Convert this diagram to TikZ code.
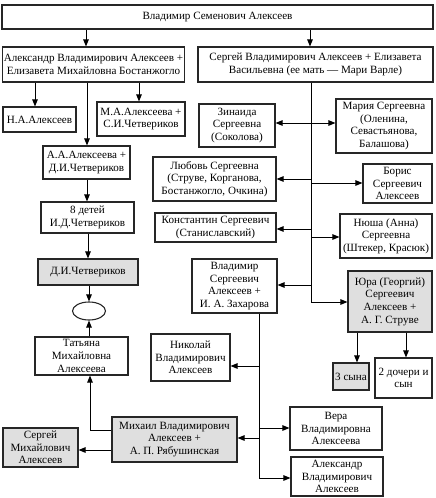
\documentclass[tikz,border=0pt]{standalone}
\usepackage{fontspec}
\setmainfont{Liberation Serif}
\usetikzlibrary{arrows.meta,shapes.geometric}
\begin{document}
\begin{tikzpicture}[x=1pt,y=-1pt,
  box/.style={draw=black!85,line width=1.1pt,fill=white,align=center,inner sep=1pt,
    font=\fontsize{11.1}{12.6}\selectfont,text=black},
  graybox/.style={box,fill=gray!25},
  arr/.style={line width=1pt,-{Triangle[length=7pt,width=5.5pt]}},
  ln/.style={line width=1pt}]
\useasboundingbox (0,0) rectangle (436,498);
% boxes: (center) width height
\node[box,minimum width=431pt,minimum height=24pt] (top) at (217.5,17) {Владимир Семенович Алексеев};
\node[box,minimum width=181pt,minimum height=35pt] (A) at (93.5,64.5) {Александр Владимирович Алексеев +\\Елизавета Михайловна Бостанжогло};
\node[box,minimum width=235pt,minimum height=35pt] (S) at (315.5,64.5) {Сергей Владимирович Алексеев + Елизавета\\Васильевна (ее мать — Мари Варле)};
\node[box,minimum width=73pt,minimum height=25pt] (NA) at (39.5,119.5) {Н.А.Алексеев};
\node[box,minimum width=88pt,minimum height=34pt] (MA) at (141,119) {М.А.Алексеева +\\С.И.Четвериков};
\node[box,minimum width=87pt,minimum height=33pt] (AA) at (86.5,162.5) {А.А.Алексеева +\\Д.И.Четвериков};
\node[box,minimum width=93pt,minimum height=31pt] (D8) at (87.5,217.5) {8 детей\\И.Д.Четвериков};
\node[graybox,minimum width=100pt,minimum height=26pt] (DI) at (88,272) {Д.И.Четвериков};
\node[draw=black!85,line width=1.1pt,ellipse,minimum width=33pt,minimum height=18pt,inner sep=0pt] (el) at (89,311) {};
\node[box,minimum width=93pt,minimum height=38pt] (Tat) at (81.5,356) {Татьяна\\Михайловна\\Алексеева};
\node[graybox,minimum width=75pt,minimum height=39pt] (Ser) at (40.5,447.5) {Сергей\\Михайлович\\Алексеев};
\node[graybox,minimum width=125pt,minimum height=45pt] (Mik) at (174.5,439.5) {Михаил Владимирович\\Алексеев +\\А. П. Рябушинская};
\node[box,minimum width=79pt,minimum height=47pt] (Nik) at (190.5,357.5) {Николай\\Владимирович\\Алексеев};
\node[box,minimum width=76pt,minimum height=43pt] (Zin) at (237,125.5) {Зинаида\\Сергеевна\\(Соколова)};
\node[box,minimum width=96pt,minimum height=54pt] (Mar) at (384,126) {Мария Сергеевна\\(Оленина,\\Севастьянова,\\Балашова)};
\node[box,minimum width=123pt,minimum height=44pt] (Lub) at (214.5,179) {Любовь Сергеевна\\(Струве, Корганова,\\Бостанжогло, Очкина)};
\node[box,minimum width=69pt,minimum height=39pt] (Bor) at (397.5,183.5) {Борис\\Сергеевич\\Алексеев};
\node[box,minimum width=121pt,minimum height=29pt] (Kon) at (215.5,227.5) {Константин Сергеевич\\(Станиславский)};
\node[box,minimum width=92pt,minimum height=44pt] (Nyu) at (386,236) {Нюша (Анна)\\Сергеевна\\(Штекер, Красюк)};
\node[box,minimum width=85pt,minimum height=54pt] (VS) at (234.5,286) {Владимир\\Сергеевич\\Алексеев +\\И. А. Захарова};
\node[graybox,minimum width=84pt,minimum height=61pt] (Yur) at (390,301.5) {Юра (Георгий)\\Сергеевич\\Алексеев +\\А. Г. Струве};
\node[graybox,minimum width=36pt,minimum height=27pt] (S3) at (351,376.5) {3 сына};
\node[box,minimum width=57pt,minimum height=40pt] (D2) at (403.5,378) {2 дочери и\\сын};
\node[box,minimum width=92pt,minimum height=43pt] (Ver) at (336,428.5) {Вера\\Владимировна\\Алексеева};
\node[box,minimum width=92pt,minimum height=39pt] (Ale) at (337,476.5) {Александр\\Владимирович\\Алексеев};
% spine coordinates
\coordinate (sp1) at (311,302);
\coordinate (sp2) at (259,478);
\coordinate (mk) at (90,430);
% connectors from the top
\draw[arr] (top.south -| 86,0) -- (A.north -| 86,0);
\draw[arr] (top.south -| 310,0) -- (S.north -| 310,0);
% left family
\draw[arr] (A.south -| 35,0) -- (NA.north -| 35,0);
\draw[arr] (A.south -| 139,0) -- (MA.north -| 139,0);
\draw[arr] (A.south -| 87,0) -- (AA.north -| 87,0);
\draw[arr] (AA.south -| 87,0) -- (D8.north -| 87,0);
\draw[arr] (D8.south -| 88,0) -- (DI.north -| 88,0);
\draw[arr] (DI.south -| el) -- (el.north);
\draw[arr] (Tat.north -| el) -- (el.south);
\draw[arr] (Mik.west |- mk) -- (mk) -- (Tat.south -| mk);
\draw[arr] (Mik.west |- 0,450) -- (Ser.east |- 0,450);
% right spine
\draw[arr] (S.south -| sp1) -- (sp1) -- (Yur.west |- sp1);
\draw[arr] (311,123) -- (Zin.east |- 0,123);
\draw[arr] (311,123) -- (Mar.west |- 0,123);
\draw[arr] (311,179) -- (Lub.east |- 0,179);
\draw[arr] (311,183) -- (Bor.west |- 0,183);
\draw[arr] (311,229) -- (Kon.east |- 0,229);
\draw[arr] (311,237) -- (Nyu.west |- 0,237);
\draw[arr] (311,285) -- (VS.east |- 0,285);
\draw[arr] (Yur.south -| 357,0) -- (S3.north -| 357,0);
\draw[arr] (Yur.south -| 406,0) -- (D2.north -| 406,0);
% Vladimir Sergeevich spine
\draw[arr] (VS.south -| sp2) -- (sp2) -- (Ale.west |- sp2);
\draw[arr] (259,366) -- (Nik.east |- 0,366);
\draw[arr] (259,438) -- (Mik.east |- 0,438);
\draw[arr] (259,428) -- (Ver.west |- 0,428);
\end{tikzpicture}
\end{document}
